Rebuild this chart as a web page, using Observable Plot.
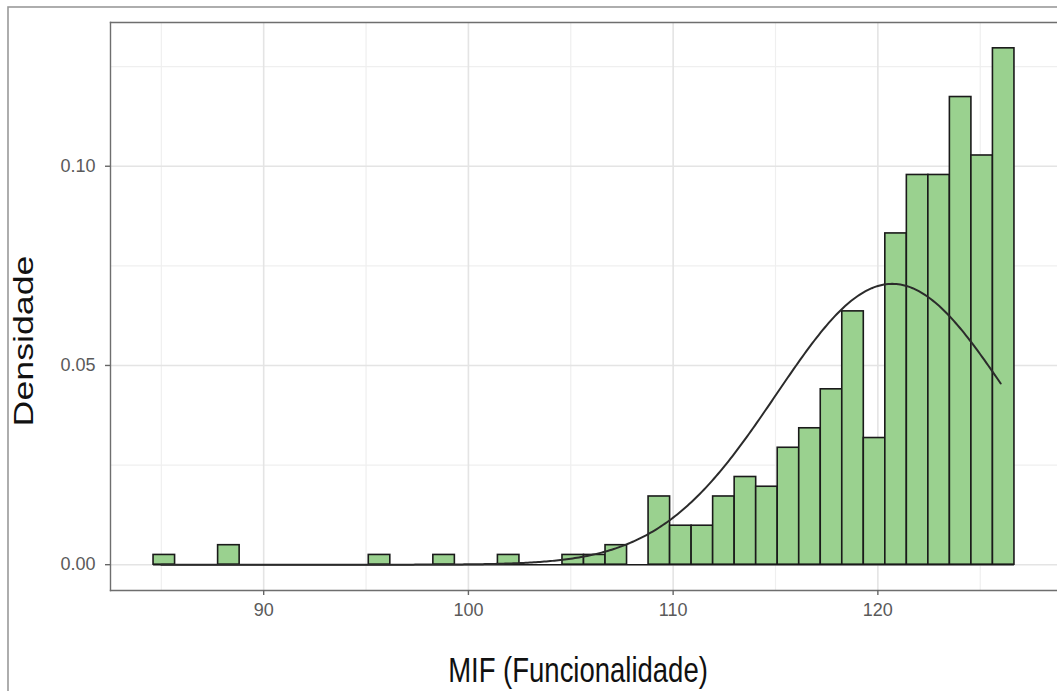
<!DOCTYPE html>
<html>
<head>
<meta charset="utf-8">
<script src="https://cdn.jsdelivr.net/npm/d3@7"></script>
<script src="https://cdn.jsdelivr.net/npm/@observablehq/plot@0.6"></script>
<style>
  html, body { margin: 0; padding: 0; background: #ffffff; }
  svg { display: block; }
</style>
</head>
<body>
<div id="chart"></div>
<script>
// Histogram of MIF scores (40 bins) with a fitted normal density overlay.
const binStart = 84.62;       // left edge of the first bin
const binWidth = 1.0513;      // width of every bin
const binCounts = [
  1, 0, 0, 2, 0, 0, 0, 0, 0, 0,
  1, 0, 0, 1, 0, 0, 1, 0, 0, 1,
  1, 2, 0, 7, 4, 4, 7, 9, 8, 12,
  14, 18, 26, 13, 34, 40, 40, 48, 42, 53
];

// Fitted normal curve parameters and the range it is drawn over
const fitMean = 120.7;
const fitSd = 5.66;
const fitRange = [85, 126];

// Axis ticks
const xTicks = [90, 100, 110, 120];
const xMinorTicks = [85, 95, 105, 115, 125];
const yTicks = [0, 0.05, 0.10];
const yMinorTicks = [0.025, 0.075, 0.125];

const total = d3.sum(binCounts);
const bins = binCounts.map((n, i) => ({
  x1: binStart + i * binWidth,
  x2: binStart + (i + 1) * binWidth,
  density: n / (total * binWidth)
}));
const filled = bins.filter(d => d.density > 0);
const binEnd = binStart + binCounts.length * binWidth;

const dnorm = x => Math.exp(-0.5 * ((x - fitMean) / fitSd) ** 2) / (fitSd * Math.sqrt(2 * Math.PI));
const curve = d3.range(fitRange[0], fitRange[1] + 1e-9, 0.1).map(x => ({x, y: dnorm(x)}));

// ggplot-style 5% expansion around the data
const xSpan = binEnd - binStart;
const yMax = d3.max(bins, d => d.density);

const panelBorder = {stroke: "#6e6e6e", strokeWidth: 1.4};

const svg = Plot.plot({
  width: 1057,
  height: 691,
  marginLeft: 110,
  marginTop: 22,
  marginBottom: 101,
  marginRight: 0,
  style: {fontFamily: "'Liberation Sans', Arial, sans-serif", fontSize: "18px", background: "#ffffff"},
  x: {domain: [binStart - 0.05 * xSpan, binEnd + 0.05 * xSpan]},
  y: {domain: [-0.05 * yMax, yMax * 1.05]},
  marks: [
    Plot.gridX(xMinorTicks, {stroke: "#efefef", strokeOpacity: 1, strokeWidth: 1.2}),
    Plot.gridY(yMinorTicks, {stroke: "#efefef", strokeOpacity: 1, strokeWidth: 1.2}),
    Plot.gridX(xTicks, {stroke: "#e4e4e4", strokeOpacity: 1, strokeWidth: 1.6}),
    Plot.gridY(yTicks, {stroke: "#e4e4e4", strokeOpacity: 1, strokeWidth: 1.6}),
    Plot.ruleY([0], {x1: binStart, x2: binEnd, stroke: "#1a1a1a", strokeWidth: 1.6}),
    Plot.rect(filled, {x1: "x1", x2: "x2", y1: () => 0, y2: "density",
      fill: "#9ad18f", stroke: "#1a1a1a", strokeWidth: 1.6}),
    Plot.line(curve, {x: "x", y: "y", stroke: "#2b2b2b", strokeWidth: 2}),
    // panel border: its right side falls at the page edge
    Plot.frame({anchor: "top", ...panelBorder}),
    Plot.frame({anchor: "left", ...panelBorder}),
    Plot.frame({anchor: "bottom", ...panelBorder}),
    Plot.axisX({ticks: xTicks, tickSize: 5, tickPadding: 8, label: null, fontSize: 18}),
    Plot.axisY({ticks: yTicks, tickSize: 5, tickPadding: 10, label: null, fontSize: 18,
      tickFormat: d3.format(".2f")})
  ]
});

const root = d3.select(svg);
root.selectAll('[aria-label="x-axis tick"], [aria-label="y-axis tick"]')
  .attr("stroke", "#666").attr("stroke-width", 1.4);
root.selectAll('[aria-label="x-axis tick label"], [aria-label="y-axis tick label"]')
  .attr("fill", "#5a5a5a");

// Outer border of the figure
root.append("rect")
  .attr("x", 8).attr("y", 7)
  .attr("width", 1200).attr("height", 900)
  .attr("fill", "none").attr("stroke", "#9a9a9a").attr("stroke-width", 1.6);

// Axis titles
root.append("text")
  .attr("transform", "translate(578,682) scale(1,1.3)")
  .attr("text-anchor", "middle")
  .attr("font-size", 27.5)
  .attr("fill", "#111")
  .text("MIF (Funcionalidade)");

root.append("text")
  .attr("transform", "translate(33,341) rotate(-90) scale(1.3,1)")
  .attr("text-anchor", "middle")
  .attr("font-size", 27.5)
  .attr("fill", "#111")
  .text("Densidade");

document.getElementById("chart").appendChild(svg);
</script>
</body>
</html>
